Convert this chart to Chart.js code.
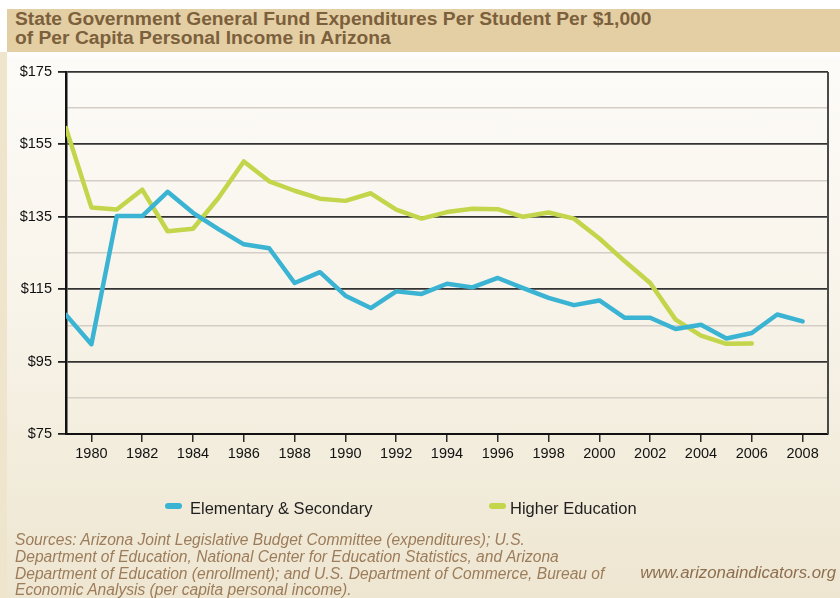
<!DOCTYPE html>
<html><head><meta charset="utf-8">
<script src="https://cdn.jsdelivr.net/npm/chart.js@4.4.1/dist/chart.umd.min.js"></script>
<style>
html,body{margin:0;padding:0;width:840px;height:598px;overflow:hidden;}
body{position:relative;background:linear-gradient(to bottom,#ffffff 0px,#ffffff 52px,#fdfbf8 60px,#f8f4ea 300px,#eee6d1 598px);font-family:"Liberation Sans",Arial,sans-serif;}
#band{position:absolute;left:7px;top:9px;width:833px;height:43px;background:#e3cfa3;}
#leftstrip{position:absolute;left:0;top:52px;width:7px;height:546px;background:#efe5cd;}
#title{position:absolute;left:15px;top:10px;font-weight:bold;font-size:17.5px;line-height:19px;color:#7c5f3c;white-space:nowrap;transform:scaleX(1.1);transform-origin:0 0;}
#chartbox{position:absolute;left:0;top:0;width:840px;height:598px;}
.lg{position:absolute;top:498px;height:20px;line-height:20px;font-size:16.5px;color:#1e1e1e;white-space:nowrap;}
.mk{position:absolute;top:503px;width:17px;height:6px;border-radius:3px;}
#sources{position:absolute;left:15px;top:532px;font-style:italic;font-size:15.6px;line-height:16.8px;color:#9c7c5a;white-space:nowrap;}
#site{position:absolute;right:4px;top:563px;font-style:italic;font-size:16.8px;line-height:20px;color:#8d6f4f;white-space:nowrap;}
</style></head>
<body>
<div id="band"></div>
<div id="leftstrip"></div>
<div id="title">State Government General Fund Expenditures Per Student Per $1,000<br>of Per Capita Personal Income in Arizona</div>
<div id="chartbox"><canvas id="c" width="840" height="598"></canvas></div>
<div id="legend"></div>
<div id="sources">Sources: Arizona Joint Legislative Budget Committee (expenditures); U.S.<br>Department of Education, National Center for Education Statistics, and Arizona<br>Department of Education (enrollment); and U.S. Department of Commerce, Bureau of<br>Economic Analysis (per capita personal income).</div>
<div id="site">www.arizonaindicators.org</div>
<script>
// ---- data ----
const years = [1979,1980,1981,1982,1983,1984,1985,1986,1987,1988,1989,1990,1991,1992,1993,1994,1995,1996,1997,1998,1999,2000,2001,2002,2003,2004,2005,2006,2007,2008];
const elemSecondary = [107.9,99.8,135.2,135.2,141.9,136.1,131.6,127.4,126.3,116.7,119.7,113.2,109.8,114.4,113.7,116.5,115.5,118.1,115.3,112.6,110.6,111.9,107.1,107.1,104.0,105.2,101.4,102.9,108.0,106.1];
const higherEd = [159.5,137.6,137.0,142.5,131.0,131.7,140.2,150.3,144.8,142.2,140.0,139.4,141.5,137.0,134.5,136.3,137.2,137.1,135.0,136.2,134.5,129.0,122.7,116.7,106.6,102.2,99.9,100.0];
const seriesNames = ["Elementary & Secondary","Higher Education"];
const seriesColors = ["#3bb4d3","#c3d54a"];
const yTickValues = [75,95,115,135,155,175];
const xTickYears = [1980,1982,1984,1986,1988,1990,1992,1994,1996,1998,2000,2002,2004,2006,2008];

const toPts = (vals) => vals.map((v,i)=>({x:years[i],y:v}));

// legend (built from series)
const legendPos = [{mk:165,tx:190},{mk:489,tx:510}];
const lgEl = document.getElementById('legend');
seriesNames.forEach((n,i)=>{
  const m=document.createElement('div');m.className='mk';m.style.left=legendPos[i].mk+'px';m.style.background=seriesColors[i];lgEl.appendChild(m);
  const t=document.createElement('div');t.className='lg';t.style.left=legendPos[i].tx+'px';t.textContent=n;lgEl.appendChild(t);
});

const borderPlugin = {
  id:'frame',
  afterDatasetsDraw(chart){
    const {ctx, chartArea:a} = chart;
    ctx.save();
    ctx.strokeStyle='#4a4a4a';ctx.lineWidth=2;
    ctx.beginPath();ctx.moveTo(a.right,a.top);ctx.lineTo(a.right,a.bottom);ctx.stroke();
    ctx.restore();
  }
};

Chart.defaults.font.family = '"Liberation Sans", Arial, sans-serif';
Chart.defaults.font.size = 14.5;
Chart.defaults.color = '#111';

new Chart(document.getElementById('c'), {
  type:'line',
  data:{datasets:[
    {label:seriesNames[0],data:toPts(elemSecondary),borderColor:seriesColors[0],borderWidth:4.5,pointRadius:0,tension:0,borderJoinStyle:'round',borderCapStyle:'round'},
    {label:seriesNames[1],data:toPts(higherEd),borderColor:seriesColors[1],borderWidth:4.5,pointRadius:0,tension:0,borderJoinStyle:'round',borderCapStyle:'round'}
  ]},
  options:{
    responsive:false,animation:false,
    layout:{padding:{left:0,top:72,right:12,bottom:134}},
    plugins:{legend:{display:false},tooltip:{enabled:false}},
    scales:{
      x:{type:'linear',min:1979,max:2009,
        afterFit(s){s.height=30;},
        ticks:{stepSize:1,autoSkip:false,maxRotation:0,padding:3,
          callback:(v)=>xTickYears.includes(v)?String(v):''},
        grid:{drawOnChartArea:false,tickLength:8,lineWidth:1.5,
          color:(c)=>c.tick && xTickYears.includes(c.tick.value)?'#2a2a2a':'rgba(0,0,0,0)'},
        border:{color:'#111',width:2}
      },
      y:{min:75,max:175,
        afterFit(s){s.width=66;},
        ticks:{stepSize:10,autoSkip:false,padding:6,
          callback:(v)=>yTickValues.includes(v)?'$'+v:''},
        grid:{tickLength:8,
          lineWidth:(c)=>c.tick && yTickValues.includes(c.tick.value)?1.8:1.5,
          color:(c)=>c.tick && yTickValues.includes(c.tick.value)?'#333':'#d3cec6',
          tickColor:(c)=>c.tick && yTickValues.includes(c.tick.value)?'#222':'rgba(0,0,0,0)'},
        border:{color:'#111',width:2.5}
      }
    }
  },
  plugins:[borderPlugin]
});
</script>
</body></html>
